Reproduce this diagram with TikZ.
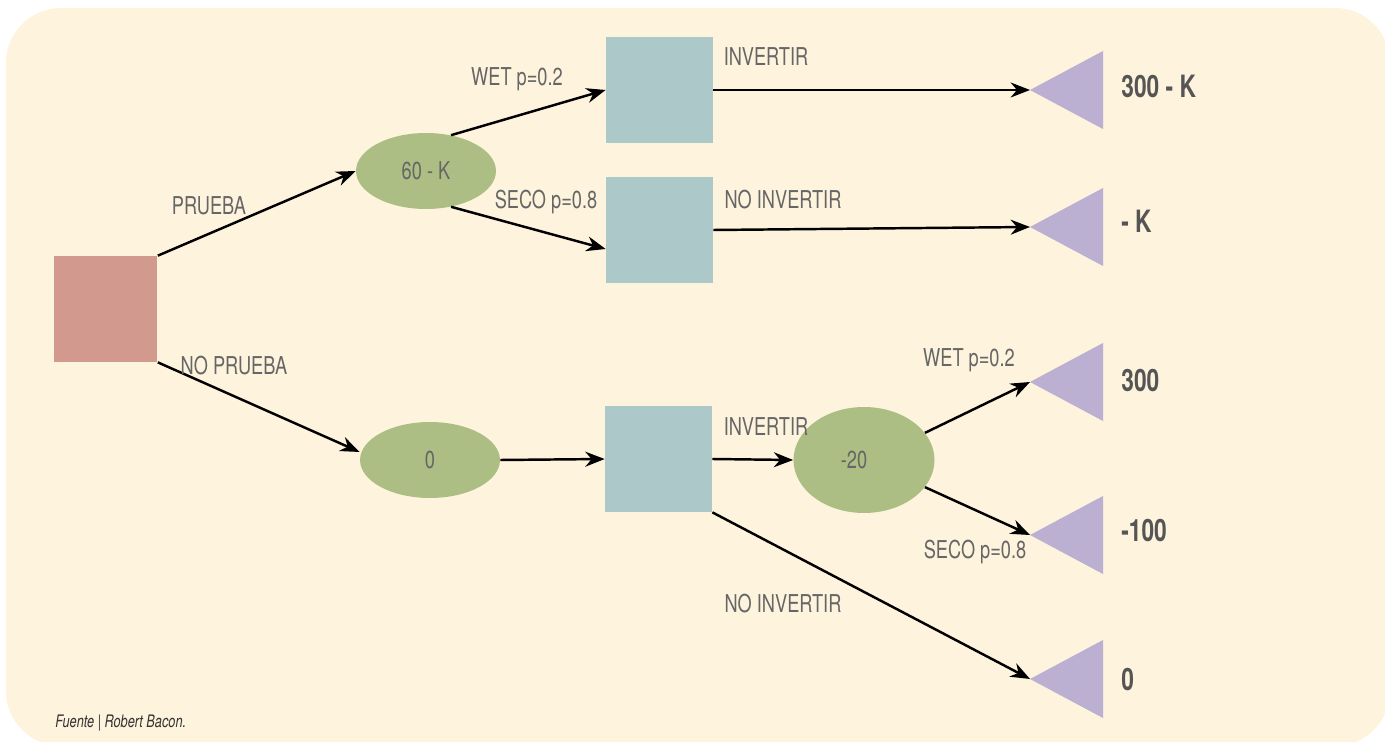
\documentclass[tikz,border=0pt]{standalone}
\usepackage{fontspec}
\setmainfont[FakeStretch=0.74]{TeX Gyre Heros}
\usepackage{xcolor}
\usepackage{tikz}
\usetikzlibrary{arrows.meta,positioning,calc,shapes.geometric}
\definecolor{paper}{HTML}{FEF3DC}
\definecolor{dec}{HTML}{D29A8E}
\definecolor{act}{HTML}{ADC8C8}
\definecolor{chance}{HTML}{ADBE85}
\definecolor{leaf}{HTML}{BBB0D2}
\definecolor{lbl}{HTML}{666666}
\definecolor{valc}{HTML}{555555}

\begin{document}
\begin{tikzpicture}[x=0.02cm,y=-0.02cm,
  decbox/.style={fill=dec,minimum width=2.08cm,minimum height=2.12cm,inner sep=0pt},
  actbox/.style={fill=act,minimum width=2.14cm,minimum height=2.12cm,inner sep=0pt},
  oval/.style={ellipse,fill=chance,minimum width=2.8cm,minimum height=1.52cm,inner sep=0pt,
    text=lbl,font=\fontsize{14}{16}\selectfont},
  lab/.style={text=lbl,font=\fontsize{14}{16}\selectfont,inner sep=0pt},
  val/.style={text=valc,font=\fontsize{17.5}{20}\selectfont\bfseries,anchor=west,inner sep=0pt},
  arr/.style={line width=1.4pt,-{Stealth[length=11pt,width=8.5pt]}}]
\useasboundingbox (0,0) rectangle (1385,742);
% background panel
\fill[paper,rounded corners=1.1cm] (6,8) rectangle (1390,746);

% decision, action and chance nodes
\node[decbox] (root) at (105.5,309) {};
\node[oval] (c1) at (426,171) {60 - K};
\node[oval] (c2) at (430,460) {0};
\node[oval,minimum width=2.82cm,minimum height=2.12cm] (c3) at (864,460) {-20\hspace*{0.4cm}};
\node[actbox] (b1) at (659.5,90) {};
\node[actbox] (b2) at (659.5,230) {};
\node[actbox] (b3) at (658.5,459) {};

% outcome triangles
\foreach \n/\y/\ty/\v in {1/90/86/{300 - K},2/227/221/{- K},3/382/381/{300},4/535/531/{-100},5/679/680/{0}}{
  \fill[leaf] (1103,\y-39) -- (1030,\y) -- (1103,\y+39) -- cycle;
  \coordinate (t\n) at (1030,\y);
  \node[val] (v\n) at (1121,\ty) {\v};
}

% connectors
\draw[arr] (root.north east) -- (c1.west);
\draw[arr] (root.south east) -- ($(c2.west)+(0,-8)$);
\draw[arr] (c1.55) -- (b1.west);
\draw[arr] (c1.-55) -- ($(b2.west)+(0,19)$);
\draw[arr] (b1.east) -- (t1);
\draw[arr] (b2.east) -- (t2);
\draw[arr] (c2.east) -- (b3.west);
\draw[arr] (b3.east) -- (c3.west);
\draw[arr] (c3.24) -- (t3);
\draw[arr] (c3.-24) -- (t4);
\draw[arr] (b3.south east) -- (t5);

% branch labels
\node[lab] (l1) at (209,206) {PRUEBA};
\node[lab] (l2) at (234,366) {NO PRUEBA};
\node[lab] (l3) at (517,79) {WET p=0.2};
\node[lab] (l4) at (546,202) {SECO p=0.8};
\node[lab] (l5) at (766,57) {INVERTIR};
\node[lab] (l6) at (783,200) {NO INVERTIR};
\node[lab] (l7) at (766,427) {INVERTIR};
\node[lab] (l8) at (969,360) {WET p=0.2};
\node[lab] (l9) at (975,552) {SECO p=0.8};
\node[lab] (l10) at (783,604) {NO INVERTIR};
\node[text=black!80,font=\fontsize{9.8}{11}\selectfont\itshape,anchor=west,inner sep=0pt] (src) at (55,723) {Fuente | Robert Bacon.};
\end{tikzpicture}
\end{document}
